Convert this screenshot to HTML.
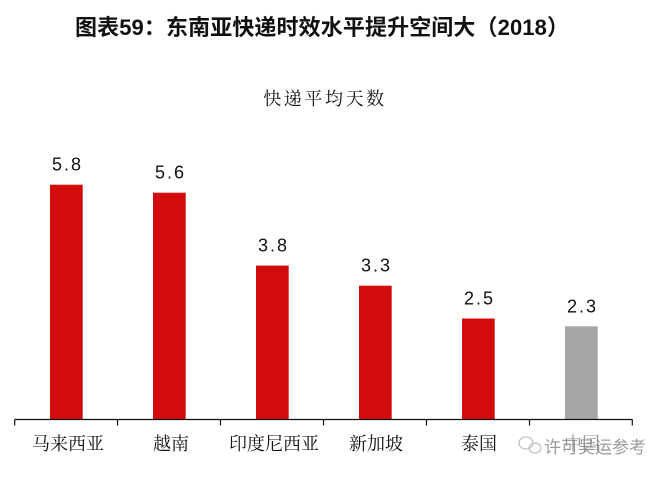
<!DOCTYPE html>
<html>
<head>
<meta charset="utf-8">
<style>
  html, body { margin: 0; padding: 0; background: #ffffff; }
  body { width: 666px; height: 478px; overflow: hidden; }
  svg { display: block; }
</style>
</head>
<body>
<svg width="666" height="478" viewBox="0 0 666 478" xmlns="http://www.w3.org/2000/svg">
  <rect x="0" y="0" width="666" height="478" fill="#ffffff"/>
  <!-- Title -->
  <text x="75" y="35" textLength="494" lengthAdjust="spacing" font-family="'Liberation Sans', 'Noto Sans CJK SC', sans-serif" font-size="22" font-weight="bold" fill="#111">图表59：东南亚快递时效水平提升空间大（2018）</text>
  <!-- Subtitle -->
  <text x="325" y="105" text-anchor="middle" font-family="'Noto Serif CJK SC', 'Noto Sans CJK SC', serif" font-size="18" letter-spacing="2.6" fill="#111">快递平均天数</text>

  <!-- Bars -->
  <rect x="50" y="184.7" width="32.7" height="234.6" fill="#D20C0C"/>
  <rect x="153" y="192.7" width="32.7" height="226.6" fill="#D20C0C"/>
  <rect x="256" y="265.6" width="32.7" height="153.7" fill="#D20C0C"/>
  <rect x="359" y="285.7" width="32.7" height="133.6" fill="#D20C0C"/>
  <rect x="462" y="318.5" width="32.7" height="100.8" fill="#D20C0C"/>
  <rect x="565" y="326.3" width="32.7" height="93" fill="#A6A6A6"/>

  <!-- Value labels -->
  <g font-family="'Liberation Sans', sans-serif" font-size="18" fill="#111" text-anchor="middle" letter-spacing="2">
    <text x="67.5" y="170.7">5.8</text>
    <text x="170.5" y="178.7">5.6</text>
    <text x="273.5" y="251.6">3.8</text>
    <text x="376.5" y="271.7">3.3</text>
    <text x="479.5" y="304.5">2.5</text>
    <text x="582.5" y="312.3">2.3</text>
  </g>

  <!-- Axis -->
  <line x1="14.5" y1="419.5" x2="632.5" y2="419.5" stroke="#111" stroke-width="1.2"/>
  <g stroke="#111" stroke-width="1.2">
    <line x1="14.7" y1="419.5" x2="14.7" y2="425.5"/>
    <line x1="117.5" y1="419.5" x2="117.5" y2="425.5"/>
    <line x1="220.5" y1="419.5" x2="220.5" y2="425.5"/>
    <line x1="323.5" y1="419.5" x2="323.5" y2="425.5"/>
    <line x1="426.5" y1="419.5" x2="426.5" y2="425.5"/>
    <line x1="529.5" y1="419.5" x2="529.5" y2="425.5"/>
    <line x1="632.3" y1="419.5" x2="632.3" y2="425.5"/>
  </g>

  <!-- Category labels -->
  <g font-family="'Noto Serif CJK SC', 'Noto Sans CJK SC', serif" font-size="18" fill="#111" text-anchor="middle">
    <text x="68" y="450">马来西亚</text>
    <text x="171" y="450">越南</text>
    <text x="274" y="450">印度尼西亚</text>
    <text x="376" y="450">新加坡</text>
    <text x="479" y="450">泰国</text>
    <text x="582" y="450">中国</text>
  </g>

  <!-- Watermark -->
  <rect x="555" y="433" width="90" height="24" fill="#ffffff" opacity="0.55"/>
  <g opacity="0.6" stroke="#9a9a9a" fill="none" stroke-width="1.3">
    <ellipse cx="526" cy="443" rx="7" ry="6"/>
    <ellipse cx="535" cy="448" rx="6" ry="5"/>
  </g>
  <text x="544" y="453" font-family="'Noto Sans CJK SC', sans-serif" font-size="17" fill="#8a8a8a" opacity="0.85">许可吴运参考</text>
</svg>
</body>
</html>
